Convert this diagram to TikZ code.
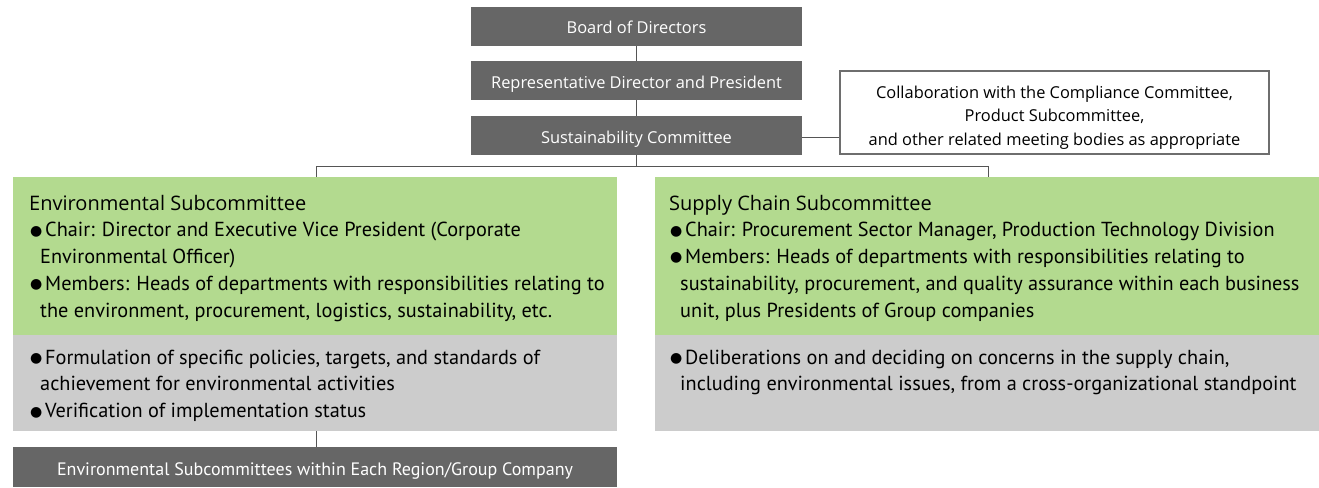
\documentclass[tikz,border=0pt]{standalone}
\usepackage{fontspec}
\setmainfont{PT Sans}
\newfontfamily\hfont{Open Sans}
\newfontfamily\bfont{PT Sans}
\newfontfamily\symfont{DejaVu Sans}
\definecolor{darkbox}{HTML}{666666}
\definecolor{greenbox}{HTML}{B3DA8F}
\definecolor{graybox}{HTML}{CCCCCC}
\definecolor{linec}{HTML}{555555}
\definecolor{collabc}{HTML}{6E6E6E}
\newcommand{\bul}{\makebox[15pt][l]{\raisebox{1.5pt}{\symfont\fontsize{14}{14}\selectfont ●}}}
\newcommand{\cont}{\hspace*{10pt}}
\newcommand{\shiftdown}[2]{\raisebox{-#1}[\height][\depth]{#2}}
\tikzset{
  darkbox/.style={fill=darkbox, text=white, inner sep=0pt, font=\hfont\fontsize{16.4}{19}\selectfont},
  greenpanel/.style={fill=greenbox, inner sep=0pt},
  graypanel/.style={fill=graybox, inner sep=0pt},
  collabbox/.style={draw=collabc, line width=2pt, fill=white, inner sep=0pt, align=center, font=\hfont\fontsize{16.4}{23}\selectfont},
  bodytext/.style={anchor=north west, inner sep=0pt, align=left, font=\bfont\fontsize{20.3}{26.8}\selectfont},
  titletext/.style={anchor=north west, inner sep=0pt, font=\hfont\fontsize{20}{22}\selectfont},
  conn/.style={draw=linec, line width=1pt},
}
\begin{document}
\begin{tikzpicture}[x=1pt,y=-1pt]
\useasboundingbox (0,0) rectangle (1319,487);
% top chain
\node[darkbox, minimum width=331pt, minimum height=39pt] (board) at (636.5,26.5) {\shiftdown{1pt}{Board of Directors}};
\node[darkbox, minimum width=331pt, minimum height=39pt] (rep) at (636.5,80.5) {\shiftdown{3.5pt}{Representative Director and President}};
\node[darkbox, minimum width=331pt, minimum height=39pt] (sust) at (636.5,135.5) {\shiftdown{3.5pt}{Sustainability Committee}};
\node[collabbox, minimum width=429pt, minimum height=83pt] (collab) at (1054.5,112.5) {\shiftdown{4.5pt}{\begin{tabular}{@{}c@{}}Collaboration with the Compliance Committee,\\[0.5pt]Product Subcommittee,\\[0.5pt]and other related meeting bodies as appropriate\end{tabular}}};
% panels
\node[greenpanel, minimum width=604pt, minimum height=158pt] (greenL) at (315,256) {};
\node[graypanel, minimum width=604pt, minimum height=96pt] (grayL) at (315,383) {};
\node[greenpanel, minimum width=664pt, minimum height=158pt] (greenR) at (987,256) {};
\node[graypanel, minimum width=664pt, minimum height=96pt] (grayR) at (987,383) {};
\node[darkbox, minimum width=604pt, minimum height=40pt, font=\bfont\fontsize{18}{20}\selectfont] (bottom) at (315,467) {\shiftdown{4pt}{Environmental Subcommittees within Each Region/Group Company}};
% connectors
\coordinate (junc) at (636.5,166);
\coordinate (jl) at (316,166);
\coordinate (jr) at (988,166);
\draw[conn] (board.south) -- (rep.north);
\draw[conn] (rep.south) -- (sust.north);
\draw[conn] (sust.east |- 0,137) -- (collab.west |- 0,137);
\draw[conn] (sust.south) -- (junc);
\draw[conn] (greenL.north -| jl) -- (jl) -- (jr) -- (greenR.north -| jr);
\draw[conn] (grayL.south -| jl) -- (bottom.north -| jl);
% texts left
\node[titletext] (tl) at (29,195) {Environmental Subcommittee};
\node[bodytext] (bl) at (30,222) {\bul Chair: Director and Executive Vice President (Corporate\\
\cont Environmental Officer)\\
\bul Members: Heads of departments with responsibilities relating to\\
\cont the environment, procurement, logistics, sustainability, etc.};
\node[bodytext] (gl) at (30,349.5) {\bul Formulation of specific policies, targets, and standards of\\
\cont achievement for environmental activities\\
\bul Verification of implementation status};
% texts right
\node[titletext] (tr) at (669,195) {Supply Chain Subcommittee};
\node[bodytext] (br) at (670,222) {\bul Chair: Procurement Sector Manager, Production Technology Division\\
\bul Members: Heads of departments with responsibilities relating to\\
\cont sustainability, procurement, and quality assurance within each business\\
\cont unit, plus Presidents of Group companies};
\node[bodytext] (gr) at (670,349.5) {\bul Deliberations on and deciding on concerns in the supply chain,\\
\cont including environmental issues, from a cross-organizational standpoint};
\end{tikzpicture}
\end{document}
